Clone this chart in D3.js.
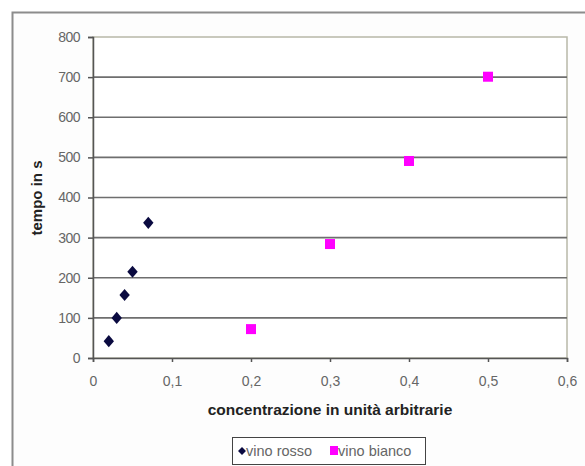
<!DOCTYPE html>
<html><head><meta charset="utf-8">
<script src="https://cdn.jsdelivr.net/npm/d3@7"></script>
<style>body{margin:0;background:#fff}svg{display:block}</style>
</head><body>
<script>
const xTicks = [0, 0.1, 0.2, 0.3, 0.4, 0.5, 0.6];
const yTicks = [0, 100, 200, 300, 400, 500, 600, 700, 800];
const rossoX = [0.02, 0.03, 0.04, 0.05, 0.07];
const rossoY = [42, 100, 157, 215, 337];
const biancoX = [0.2, 0.3, 0.4, 0.5];
const biancoY = [72, 284, 491, 701];
const seriesNames = ["vino rosso", "vino bianco"];

const W = 585, H = 466;
const FONT = "Arial, 'Liberation Sans', sans-serif";
const svg = d3.select("body").append("svg").attr("width", W).attr("height", H);
const fmt = d => String(d).replace(".", ",");

// outer chart border
svg.append("rect").attr("x", 12.5).attr("y", 12.5).attr("width", 600).attr("height", 500)
  .attr("fill", "#fdfdfd").attr("stroke", "#8c8c8c").attr("stroke-width", 2);

const x = d3.scaleLinear().domain([0, 0.6]).range([93, 567]);
const y = d3.scaleLinear().domain([0, 800]).range([358, 37]);

// plot area
svg.append("rect").attr("x", 93).attr("y", 37).attr("width", 474).attr("height", 321)
  .attr("fill", "#fff").attr("stroke", "#b8b8a8").attr("stroke-width", 1.5);

// gridlines
svg.append("g").selectAll("line").data(yTicks.filter(d => d > 0 && d < 800)).join("line")
  .attr("x1", 93).attr("x2", 567).attr("y1", d => y(d)).attr("y2", d => y(d))
  .attr("stroke", "#6e6e6e").attr("stroke-width", 1.6);

// y axis
const gy = svg.append("g").attr("transform", "translate(93,0)")
  .call(d3.axisLeft(y).tickValues(yTicks).tickSize(5).tickPadding(8).tickFormat(d => d));
gy.select(".domain").attr("stroke", "#555").attr("stroke-width", 1.5);
gy.selectAll(".tick line").attr("stroke", "#555").attr("stroke-width", 1.5);
gy.selectAll("text").attr("font-family", FONT).attr("font-size", 14).attr("fill", "#666")
  .attr("letter-spacing", -0.5);

// x axis
const gx = svg.append("g").attr("transform", "translate(0,358)")
  .call(d3.axisBottom(x).tickValues(xTicks).tickSize(4).tickPadding(14).tickFormat(fmt));
gx.select(".domain").attr("stroke", "#555").attr("stroke-width", 1.5);
gx.selectAll(".tick line").attr("stroke", "#555").attr("stroke-width", 1.5);
gx.selectAll("text").attr("font-family", FONT).attr("font-size", 14).attr("fill", "#666");

// axis titles
svg.append("text").attr("x", 330).attr("y", 415).attr("text-anchor", "middle")
  .attr("font-family", FONT).attr("font-size", 15.5).attr("font-weight", "bold")
  .attr("fill", "#222").text("concentrazione in unità arbitrarie");
svg.append("text").attr("transform", "translate(42,198) rotate(-90)").attr("text-anchor", "middle")
  .attr("font-family", FONT).attr("font-size", 15).attr("font-weight", "bold")
  .attr("fill", "#222").text("tempo in s");

// points
const diamond = d3.symbol().type(d3.symbolDiamond2).size(95);
svg.append("g").selectAll("path").data(rossoX.map((v, i) => [v, rossoY[i]])).join("path")
  .attr("d", diamond).attr("transform", d => `translate(${x(d[0])},${y(d[1])}) scale(0.85,1)`)
  .attr("fill", "#0a0a40");
svg.append("g").selectAll("rect").data(biancoX.map((v, i) => [v, biancoY[i]])).join("rect")
  .attr("x", d => x(d[0]) - 5).attr("y", d => y(d[1]) - 5).attr("width", 10).attr("height", 10)
  .attr("fill", "#ff00ff");

// legend
const lg = svg.append("g");
lg.append("rect").attr("x", 232.5).attr("y", 437.5).attr("width", 193).attr("height", 27)
  .attr("fill", "#fff").attr("stroke", "#444").attr("stroke-width", 1);
lg.append("path").attr("d", d3.symbol().type(d3.symbolDiamond2).size(40))
  .attr("transform", "translate(242,451)").attr("fill", "#0a0a40");
lg.append("text").attr("x", 246).attr("y", 456).attr("font-family", FONT)
  .attr("font-size", 14.5).attr("fill", "#666").text(seriesNames[0]);
lg.append("rect").attr("x", 330).attr("y", 446).attr("width", 8).attr("height", 9).attr("fill", "#ff00ff");
lg.append("text").attr("x", 338).attr("y", 456).attr("font-family", FONT)
  .attr("font-size", 14.5).attr("fill", "#666").text(seriesNames[1]);
</script>
</body></html>
